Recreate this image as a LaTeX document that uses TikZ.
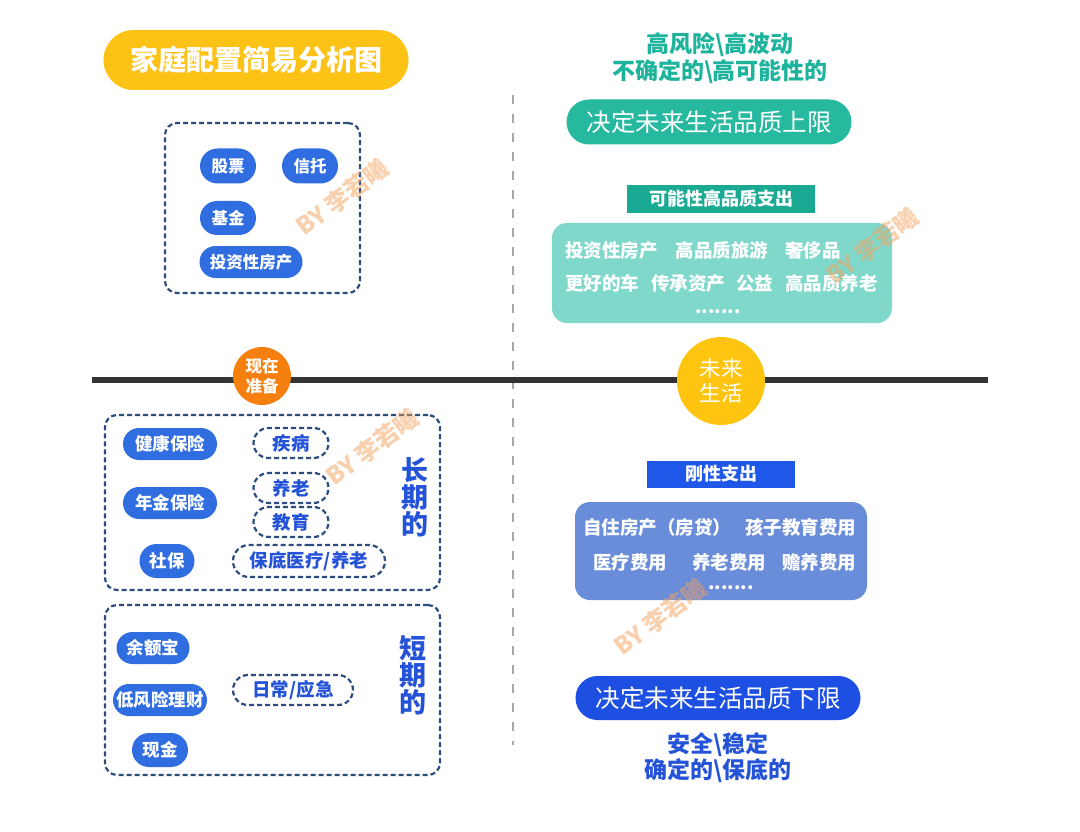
\documentclass[tikz,border=0pt]{standalone}
\usepackage{fontspec}
\setmainfont{Noto Sans CJK SC}
\usetikzlibrary{shapes.misc}
\definecolor{pillblue}{HTML}{2F6DE1}
\definecolor{dashnavy}{HTML}{2E4D7F}
\definecolor{titleyellow}{HTML}{FDC216}
\definecolor{tealtext}{HTML}{1DB39C}
\definecolor{tealpill}{HTML}{26B9A0}
\definecolor{tealrect}{HTML}{1AAA94}
\definecolor{teallight}{HTML}{80D8CB}
\definecolor{rigidblue}{HTML}{1F58E8}
\definecolor{lavblue}{HTML}{6A8DD9}
\definecolor{lowblue}{HTML}{1E4FE3}
\definecolor{textblue}{HTML}{2553D8}
\definecolor{orangec}{HTML}{F5800F}
\definecolor{yellowc}{HTML}{FFC40F}
\definecolor{axiscol}{HTML}{333333}
\definecolor{vcol}{HTML}{A8A8A8}
\definecolor{wm}{HTML}{F4A25C}
\newcommand\fsz[1]{\fontsize{#1}{#1}\selectfont}
\tikzset{
  pill/.style={rounded rectangle, fill=pillblue, text=white, inner sep=0pt, minimum height=32pt, font=\bfseries\fsz{17.5}},
  dpill/.style={rounded rectangle, draw=dashnavy, line width=2.2pt, dash pattern=on 5pt off 3pt, text=textblue, inner sep=0pt, minimum height=30pt, font=\bfseries\fsz{18.5}},
  dbox/.style={draw=dashnavy, line width=2.2pt, dash pattern=on 5pt off 3pt, rounded corners=12pt, inner sep=0pt},
  wmark/.style={text=wm, opacity=0.5, rotate=37, font=\bfseries\fsz{24}},
  vlabel/.style={text=textblue, align=center, font=\bfseries\fontsize{27}{27}\selectfont},
  boxline/.style={text=white, anchor=west, inner sep=0pt, font=\bfseries\fsz{18.5}},
}
\begin{document}
\begin{tikzpicture}[x=1pt,y=-1pt]
\fill[white] (0,0) rectangle (1080,832);
\useasboundingbox (0,0) rectangle (1080,832);

% axes
\coordinate (vtop) at (513,95);
\coordinate (vbot) at (513,745);
\draw[vcol, line width=1.8pt, dash pattern=on 9pt off 10pt] (vtop) -- (vbot);
\coordinate (hl) at (92,380);
\coordinate (hr) at (988,380);
\draw[axiscol, line width=6pt] (hl) -- (hr);

% title
\node[rounded rectangle, fill=titleyellow, text=white, inner sep=0pt, minimum width=305pt, minimum height=60pt, font=\bfseries\fsz{28}] (title) at (256,60) {家庭配置简易分析图};

% top-left box
\node[dbox, minimum width=195pt, minimum height=170pt] (tlbox) at (262.5,208) {};
\node[pill, font=\bfseries\fsz{16.5}, minimum width=56pt, minimum height=35pt] (gp) at (228,166) {股票};
\node[pill, font=\bfseries\fsz{16.5}, minimum width=56pt, minimum height=35pt] (xt) at (310,166) {信托};
\node[pill, font=\bfseries\fsz{16.5}, minimum width=56pt, minimum height=34pt] (jj) at (228,218) {基金};
\node[pill, font=\bfseries\fsz{16.5}, minimum width=103pt, minimum height=32pt] (tzfc) at (251,262) {投资性房产};

% circles
\node[circle, fill=orangec, text=white, inner sep=0pt, minimum size=58pt, align=center, font=\bfseries\fontsize{16.5}{20}\selectfont] (now) at (262,376) {现在\\准备};
\node[circle, fill=yellowc, text=white, inner sep=0pt, minimum size=88pt, align=center, font=\fontsize{21.5}{25}\selectfont] (future) at (721,381) {未来\\生活};

% long-term box
\node[dbox, minimum width=335pt, minimum height=175pt] (longbox) at (272.5,502.5) {};
\node[pill, minimum width=94pt] (jkbx) at (170,444) {健康保险};
\node[pill, minimum width=94pt] (njbx) at (170,503) {年金保险};
\node[pill, minimum width=55pt, minimum height=34pt] (sb) at (167,561) {社保};
\node[dpill, minimum width=75pt] (jb) at (291,443) {疾病};
\node[dpill, minimum width=75pt] (yl) at (291,488) {养老};
\node[dpill, minimum width=75pt] (jy) at (291,522) {教育};
\node[dpill, minimum width=152pt, minimum height=32pt] (bd) at (309,561) {保底医疗/养老};
\node[vlabel] (cq) at (415,497) {长\\期\\的};

% short-term box
\node[dbox, minimum width=335pt, minimum height=170pt] (shortbox) at (272.5,690) {};
\node[pill, minimum width=73pt] (yeb) at (153,648) {余额宝};
\node[pill, minimum width=94pt] (dfx) at (160,700) {低风险理财};
\node[pill, minimum width=56pt, minimum height=34pt] (xj) at (160,750) {现金};
\node[dpill, minimum width=120pt] (rc) at (293,690) {日常/应急};
\node[vlabel] (dq) at (413,675) {短\\期\\的};

% top-right
\node[text=tealtext, align=center, font=\bfseries\fontsize{23}{27}\selectfont] (hr1) at (720,58) {高风险\textbackslash 高波动\\不确定的\textbackslash 高可能性的};
\node[rounded rectangle, fill=tealpill, text=white, inner sep=0pt, minimum width=285pt, minimum height=45pt, font=\fsz{24.5}] (upper) at (709,122) {决定未来生活品质上限};
\node[fill=tealrect, text=white, inner sep=0pt, minimum width=188pt, minimum height=28pt, font=\bfseries\fsz{18}] (kn) at (721,199) {可能性高品质支出};
\node[fill=teallight, rounded corners=15pt, inner sep=0pt, minimum width=340pt, minimum height=100pt] (pbox) at (722,273) {};
\node[boxline] (pl1) at (565,250) {投资性房产\hspace{18pt}高品质旅游\hspace{17pt}奢侈品};
\node[boxline] (pl2) at (565,283) {更好的车\hspace{12pt}传承资产\hspace{11pt}公益\hspace{12pt}高品质养老};
\node[boxline, anchor=center] (pl3) at (718,312) {.......};

% bottom-right
\node[fill=rigidblue, text=white, inner sep=0pt, minimum width=148pt, minimum height=27pt, font=\bfseries\fsz{18}] (gx) at (721,474) {刚性支出};
\node[fill=lavblue, rounded corners=15pt, inner sep=0pt, minimum width=292pt, minimum height=98pt] (rbox) at (721,551) {};
\node[boxline] (rl1) at (583,527) {自住房产（房贷）\hspace{14pt}孩子教育费用};
\node[boxline] (rl2) at (593,562) {医疗费用\hspace{25pt}养老费用\hspace{16pt}赡养费用};
\node[boxline, anchor=center] (rl3) at (731,588) {.......};
\node[rounded rectangle, fill=lowblue, text=white, inner sep=0pt, minimum width=285pt, minimum height=44pt, font=\fsz{24.5}] (lower) at (718,698) {决定未来生活品质下限};
\node[text=textblue, align=center, font=\bfseries\fontsize{23}{26}\selectfont] (safe) at (718,758) {安全\textbackslash 稳定\\确定的\textbackslash 保底的};

% watermarks
\node[wmark] (w1) at (342,197) {BY 李若曦};
\node[wmark] (w2) at (372,447) {BY 李若曦};
\node[wmark] (w3) at (660,617) {BY 李若曦};
\node[wmark] (w4) at (872,246) {BY 李若曦};
\end{tikzpicture}
\end{document}
